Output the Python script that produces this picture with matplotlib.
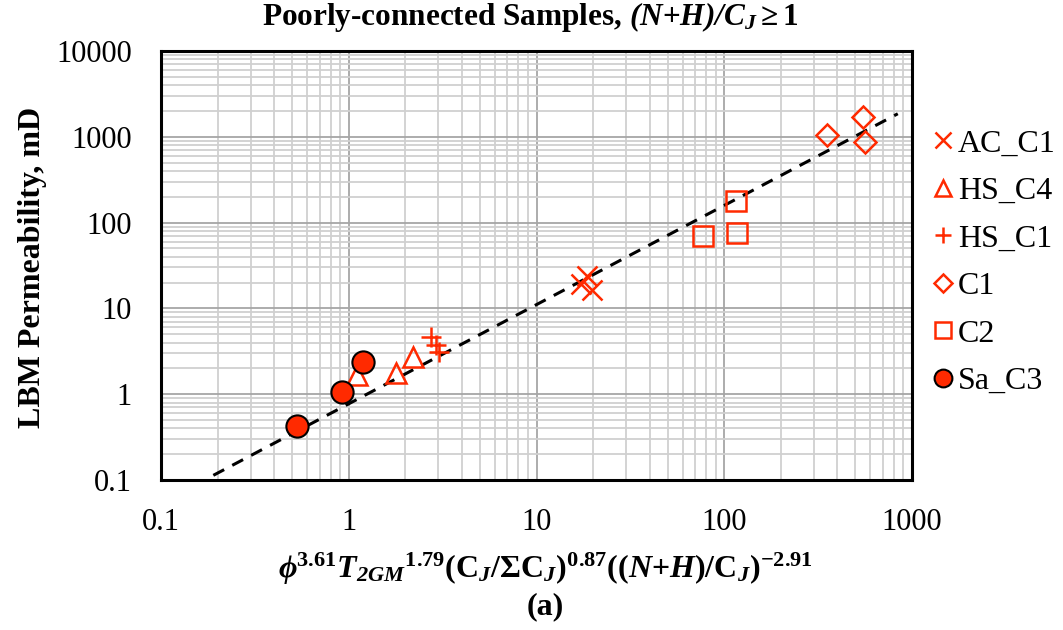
import matplotlib
matplotlib.use("Agg")
import matplotlib.pyplot as plt
import numpy as np
from matplotlib.ticker import LogLocator, FixedLocator

plt.rcParams['font.family'] = ['Liberation Serif', 'DejaVu Serif']
plt.rcParams['mathtext.fontset'] = 'custom'
plt.rcParams['mathtext.rm'] = 'Liberation Serif'
plt.rcParams['mathtext.it'] = 'Liberation Serif:italic'
plt.rcParams['mathtext.bf'] = 'Liberation Serif:bold'
plt.rcParams['mathtext.bfit'] = 'Liberation Serif:bold:italic'

# data
ac_c1_x = [17.3, 18.6, 19.8]
ac_c1_y = [19.0, 23.8, 16.4]
hs_c4_x = [1.11, 1.79, 2.19]
hs_c4_y = [1.67, 1.77, 2.71]
hs_c1_x = [2.73, 2.93, 3.04]
hs_c1_y = [4.6, 3.74, 3.08]
c1_x = [353, 550, 562]
c1_y = [1055, 1709, 871]
c2_x = [115.5, 117, 77.3]
c2_y = [178.6, 75.7, 69.8]
sa_c3_x = [0.532, 0.917, 1.196]
sa_c3_y = [0.426, 1.07, 2.35]
trend_a = 0.773
trend_b = 1.156
trend_xrange = [0.19, 840]
x_ticks = [0.1, 1, 10, 100, 1000]
x_ticklabels = ['0.1', '1', '10', '100', '1000']
y_ticks = [0.1, 1, 10, 100, 1000, 10000]
y_ticklabels = ['0.1', '1', '10', '100', '1000', '10000']

red = '#FF2A00'

fig = plt.figure(figsize=(10.63, 6.30), dpi=100)
ax = fig.add_axes([161/1063, 1-480/630, (912-161)/1063, (480-51)/630])
ax.set_xscale('log')
ax.set_yscale('log')
ax.set_xlim(0.1, 1000)
ax.set_ylim(0.1, 10000)

ax.xaxis.set_major_locator(FixedLocator(x_ticks))
ax.yaxis.set_major_locator(FixedLocator(y_ticks))
ax.xaxis.set_minor_locator(LogLocator(base=10, subs=np.arange(2, 10)))
ax.yaxis.set_minor_locator(LogLocator(base=10, subs=np.arange(2, 10)))
ax.set_xticklabels(x_ticklabels)
ax.set_yticklabels(y_ticklabels)
ax.tick_params(which='both', length=0, labelsize=22)
ax.tick_params(axis='x', pad=20)
ax.tick_params(axis='y', pad=21)
ax.xaxis.set_minor_formatter(plt.NullFormatter())
ax.yaxis.set_minor_formatter(plt.NullFormatter())

ax.grid(which='minor', color='#d0d0d0', linewidth=1.3)
ax.grid(which='major', color='#a6a6a6', linewidth=1.3)
ax.set_axisbelow(True)
for s in ax.spines.values():
    s.set_linewidth(2.2)
    s.set_color('black')

tx = np.array(trend_xrange)
ax.plot(tx, trend_a * tx ** trend_b, color='black', linestyle=(0, (4, 3)), linewidth=2.2, zorder=2)

ms = 13
ax.plot(ac_c1_x, ac_c1_y, linestyle='none', marker='x', ms=ms + 2, mew=1.8, color=red, label='AC_C1', zorder=3)
ax.plot(hs_c4_x, hs_c4_y, linestyle='none', marker='^', ms=ms + 2, mew=1.8, mfc='none', mec=red, label='HS_C4', zorder=3)
ax.plot(hs_c1_x, hs_c1_y, linestyle='none', marker='+', ms=ms + 2, mew=1.8, color=red, label='HS_C1', zorder=3)
ax.plot(c1_x, c1_y, linestyle='none', marker='D', ms=ms - 2, mew=1.8, mfc='none', mec=red, label='C1', zorder=3)
ax.plot(c2_x, c2_y, linestyle='none', marker='s', ms=ms + 2, mew=1.8, mfc='none', mec=red, label='C2', zorder=3)
ax.plot(sa_c3_x, sa_c3_y, linestyle='none', marker='o', ms=ms + 3, mew=1.5, mfc=red, mec='black', label='Sa_C3', zorder=4)

leg = fig.legend(loc='upper left', bbox_to_anchor=(933/1063, 1-129/630), frameon=False,
                 fontsize=23, handlelength=0.63, handletextpad=0.16, labelspacing=0.57,
                 borderaxespad=0, borderpad=0, markerscale=0.8)

fig.text(530/1063, 1-17/630,
         r'Poorly-connected Samples, $\mathbfit{(N}\mathbf{+}\mathbfit{H)/C_J}\mathbf{\geq 1}$',
         ha='center', va='center', fontsize=22.5, fontweight='bold')

fig.text(545/1063, 1-569/630,
         r'$\mathbfit{\phi}^{\mathbf{3.61}}\mathbfit{T}_{\mathbfit{2GM}}{}^{\mathbf{1.79}}\mathbf{(C}_{\mathbfit{J}}\mathbf{/\Sigma C}_{\mathbfit{J}}\mathbf{)}^{\mathbf{0.87}}\mathbf{((}\mathbfit{N}\mathbf{+}\mathbfit{H}\mathbf{)/C}_{\mathbfit{J}}\mathbf{)}^{\mathbf{-2.91}}$',
         ha='center', va='center', fontsize=23)
fig.text(545/1063, 1-607/630, '(a)', ha='center', va='center', fontsize=23, fontweight='bold')

fig.text(33/1063, 1-267/630, 'LBM Permeability, mD', rotation=90, ha='center', va='center',
         fontsize=23, fontweight='bold')

fig.savefig('out.png', dpi=100)
